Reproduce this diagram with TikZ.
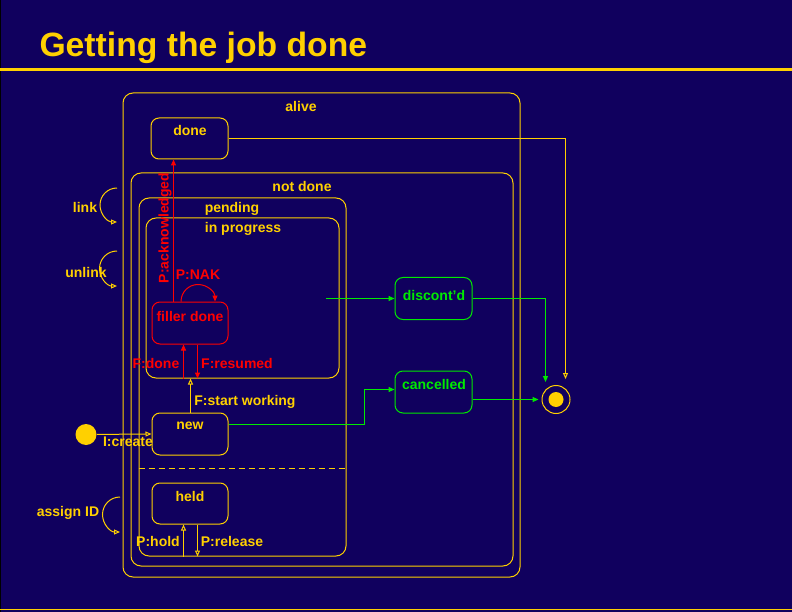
\documentclass[tikz,border=0pt]{standalone}
\usepackage{fontspec}
\setmainfont{Liberation Sans}
\usetikzlibrary{arrows.meta}
\definecolor{slide}{RGB}{16,0,94}
\definecolor{gold}{RGB}{255,208,0}
\definecolor{lime}{RGB}{0,235,0}
\colorlet{hot}{red}
\tikzset{state/.style args={#1x#2}{draw=gold, rounded corners=8pt, inner sep=0pt,
        minimum width=#1pt, minimum height=#2pt},
    big/.style={rounded corners=10pt},
    txt/.style={font=\fontsize{14}{16}\selectfont\bfseries, text=gold, inner sep=0pt},
    yarrow/.style={draw=gold, -{Triangle[open, length=6pt, width=5pt]}},
    garrow/.style={draw=lime, -{Triangle[length=6pt, width=5pt]}},
    rarrow/.style={draw=hot, -{Triangle[length=6pt, width=5pt]}}}

\begin{document}
\begin{tikzpicture}[x=1pt, y=-1pt, line width=1pt]
    \useasboundingbox (0,0) rectangle (792,612);
    \fill[slide] (0,0) rectangle (792,612);
    \draw[black] (0.5,0) -- (0.5,612);
    \fill[gold] (0,68.5) rectangle (792,71.5);
    \draw[gold] (0,609.5) -- (792,609.5);
    \node[anchor=base west, font=\fontsize{33.7}{38}\selectfont\bfseries, text=gold, inner sep=0pt]
        (title) at (39,57) {Getting the job done};

    % states
    \node[state=397x484, big] (alive) at (321.5,335) {};
    \node[state=382x393, big] (notdone) at (322,369.5) {};
    \node[state=207x358, big] (pending) at (242.5,377) {};
    \node[state=193x160, big] (inprog) at (242.5,298) {};
    \node[state=77x41] (done) at (189.5,138.5) {};
    \node[state=76x42, draw=hot] (filler) at (190,323) {};
    \node[state=76x42] (new) at (190,434) {};
    \node[state=76x41] (held) at (190,503.5) {};
    \node[state=77x42, draw=lime] (discont) at (433.5,298.5) {};
    \node[state=77x42, draw=lime] (cancelled) at (433.5,392) {};
    \node[circle, fill=gold, minimum size=21pt, inner sep=0pt] (init) at (86,434.5) {};
    \node[circle, draw=gold, minimum size=28pt, inner sep=0pt] (final) at (556,399.5) {};
    \node[circle, fill=gold, minimum size=15pt, inner sep=0pt] (final-dot) at (final) {};

    \coordinate (cut) at (0,468.5);
    \draw[gold, dash pattern=on 6pt off 4pt] (pending.west |- cut) -- (pending.east |- cut);

    % transitions
    \coordinate (fd) at ([xshift=-6.5pt]filler.south);
    \coordinate (fr) at ([xshift=7.5pt]filler.south);
    \coordinate (ack) at ([xshift=-16.5pt]filler.north);
    \coordinate (nak) at ([xshift=-9pt]filler.north);
    \coordinate (hold) at ([xshift=-6.5pt]held.south);
    \coordinate (rel) at ([xshift=7.5pt]held.south);
    \coordinate (fin-a) at (565.5,379);
    \coordinate (fin-b) at (545.5,382);
    \coordinate (bend) at (364.5,389.5);
    \coordinate (ip-out) at (326,298.5);
    \draw[yarrow] (init) -- (new.west);
    \draw[yarrow] ([xshift=0.5pt]new.north) -- ([xshift=0.5pt]new.north |- inprog.south);
    \draw[rarrow] (fd |- inprog.south) -- (fd);
    \draw[rarrow] (fr) -- (fr |- inprog.south);
    \draw[rarrow] (ack) -- (ack |- done.south);
    \draw[rarrow] (nak) arc[start angle=180, end angle=0, radius=17pt];
    \draw[yarrow] (hold |- pending.south) -- (hold);
    \draw[yarrow] (rel) -- (rel |- pending.south);
    \draw[yarrow] (done.east) -| (fin-a);
    \draw[garrow] (discont.east) -| (fin-b);
    \draw[garrow, shorten >=3pt] (cancelled.east |- final.west) -- (final.west);
    \draw[garrow] ([yshift=9.5pt]new.east) -| (bend) -- (bend -| cancelled.west);
    \draw[garrow] (ip-out) -- (ip-out -| discont.west);

    % self loops on the outer states
    \coordinate (link) at (117,188);
    \coordinate (unlink) at (117,251);
    \coordinate (assign) at (120,497);
    \draw[yarrow] (link) arc[start angle=90, end angle=270, radius=17pt];
    \draw[yarrow] (unlink) arc[start angle=90, end angle=270, radius=17.5pt];
    \draw[yarrow] (assign) arc[start angle=90, end angle=270, radius=17.5pt];

    % labels
    \node[txt] (alive-t) at (301,106) {alive};
    \node[txt] (done-t) at (190,130) {done};
    \node[txt] (notdone-t) at (302,186) {not done};
    \node[txt] (pending-t) at (232,209) {pending};
    \node[txt] (inprog-t) at (243,229) {in progress};
    \node[txt, text=hot] (filler-t) at (190,316) {filler done};
    \node[txt] (new-t) at (190,426) {new};
    \node[txt] (held-t) at (190,496) {held};
    \node[txt, text=lime] (discont-t) at (434,295) {discont'd};
    \node[txt, text=lime] (cancelled-t) at (434,384) {cancelled};
    \node[txt] (link-t) at (85,207) {link};
    \node[txt] (unlink-t) at (86,272) {unlink};
    \node[txt] (assign-t) at (68,513) {assign ID};
    \node[txt, text=hot, rotate=90] (ack-t) at (165,228) {P:acknowledged};
    \node[txt, text=hot] (nak-t) at (198,275) {P:NAK};
    \node[txt, text=hot] (fd-t) at (156,363) {F:done};
    \node[txt, text=hot] (fr-t) at (237,363) {F:resumed};
    \node[txt] (start-t) at (245,402) {F:start working};
    \node[txt] (create-t) at (128,442) {I:create};
    \node[txt] (hold-t) at (158,541) {P:hold};
    \node[txt] (rel-t) at (232,541) {P:release};
\end{tikzpicture}
\end{document}
